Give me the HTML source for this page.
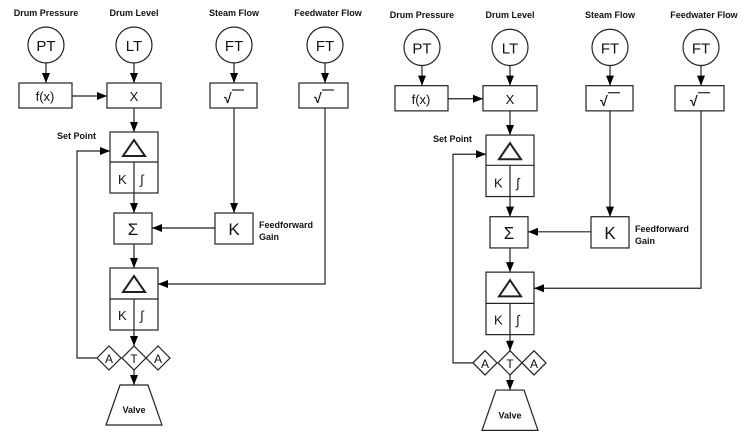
<!DOCTYPE html>
<html><head><meta charset="utf-8"><style>
html,body{margin:0;padding:0;background:#fff;width:750px;height:433px;overflow:hidden}
svg{display:block}
text{font-family:"Liberation Sans",Arial,sans-serif;fill:#111}
.b{font-weight:bold;font-size:9px}
.m{font-size:15px}
</style></head><body>
<svg width="750" height="433" viewBox="0 0 750 433">
<defs>
<marker id="a" markerWidth="10" markerHeight="8" refX="10" refY="4" orient="auto" markerUnits="userSpaceOnUse">
<path d="M0,0 L10,4 L0,8 Z" fill="#000"/></marker>
<g id="d" stroke="#222" stroke-width="1.2" fill="none">
<text class="b" x="46" y="16" text-anchor="middle" stroke="none">Drum Pressure</text>
<text class="b" x="134" y="16" text-anchor="middle" stroke="none">Drum Level</text>
<text class="b" x="234" y="16" text-anchor="middle" stroke="none">Steam Flow</text>
<text class="b" x="328" y="16" text-anchor="middle" stroke="none">Feedwater Flow</text>
<circle cx="46" cy="45" r="18" fill="#fff"/>
<circle cx="134" cy="45" r="18" fill="#fff"/>
<circle cx="234" cy="45" r="18" fill="#fff"/>
<circle cx="325" cy="45" r="18" fill="#fff"/>
<text class="m" x="46" y="51" text-anchor="middle" stroke="none">PT</text>
<text class="m" x="134" y="51" text-anchor="middle" stroke="none">LT</text>
<text class="m" x="234" y="51" text-anchor="middle" stroke="none">FT</text>
<text class="m" x="325" y="51" text-anchor="middle" stroke="none">FT</text>
<line x1="46" y1="63" x2="46" y2="83" marker-end="url(#a)"/>
<line x1="134" y1="63" x2="134" y2="83" marker-end="url(#a)"/>
<line x1="234" y1="63" x2="234" y2="83" marker-end="url(#a)"/>
<line x1="325" y1="63" x2="325" y2="83" marker-end="url(#a)"/>
<rect x="19" y="83" width="53" height="25"/>
<rect x="107" y="83" width="54" height="25"/>
<rect x="210" y="83" width="47" height="25"/>
<rect x="299" y="83" width="49" height="25"/>
<text class="m" x="45" y="101" text-anchor="middle" stroke="none" style="font-size:13px">f(x)</text>
<text class="m" x="134" y="101" text-anchor="middle" stroke="none" style="font-size:13px">X</text>
<text x="224" y="103" stroke="none" style="font-size:14px;font-weight:bold">√</text><line x1="232" y1="90" x2="244" y2="90"/>
<text x="314" y="103" stroke="none" style="font-size:14px;font-weight:bold">√</text><line x1="322" y1="90" x2="334" y2="90"/>
<line x1="72" y1="96" x2="107" y2="96" marker-end="url(#a)"/>
<line x1="134" y1="108" x2="134" y2="132" marker-end="url(#a)"/>
<!-- PID1 -->
<rect x="110" y="132" width="48" height="61"/>
<line x1="110" y1="162" x2="158" y2="162"/>
<path d="M123,156 L134,140 L145,156 Z" stroke-width="2"/>
<text x="118" y="184" stroke="none" style="font-size:13px">K</text>
<text x="140" y="184" stroke="none" style="font-size:13px">∫</text>
<line x1="134" y1="162" x2="134" y2="213" marker-end="url(#a)"/>
<text class="b" x="57" y="139" stroke="none">Set Point</text>
<polyline points="109,358 77,358 77,151 110,151" marker-end="url(#a)"/>
<!-- steam -->
<line x1="234" y1="108" x2="234" y2="213" marker-end="url(#a)"/>
<rect x="114" y="213" width="38" height="31"/>
<rect x="215" y="213" width="38" height="31"/>
<text x="133" y="235" text-anchor="middle" stroke="none" style="font-size:17px">Σ</text>
<text x="234" y="235" text-anchor="middle" stroke="none" style="font-size:17px">K</text>
<line x1="215" y1="228" x2="152" y2="228" marker-end="url(#a)"/>
<text class="b" x="259" y="228" stroke="none">Feedforward</text>
<text class="b" x="259" y="240" stroke="none">Gain</text>
<line x1="134" y1="244" x2="134" y2="268" marker-end="url(#a)"/>
<!-- PID2 -->
<rect x="110" y="268" width="48" height="62"/>
<line x1="110" y1="299" x2="158" y2="299"/>
<path d="M123,292 L134,276 L145,292 Z" stroke-width="2"/>
<text x="118" y="320" stroke="none" style="font-size:13px">K</text>
<text x="140" y="320" stroke="none" style="font-size:13px">∫</text>
<polyline points="325,108 325,284 158,284" marker-end="url(#a)"/>
<line x1="134" y1="299" x2="134" y2="346" marker-end="url(#a)"/>
<!-- diamonds -->
<path d="M97,358 L109,346 L121,358 L109,370 Z" fill="#fff"/>
<path d="M122,358 L134,346 L146,358 L134,370 Z" fill="#fff"/>
<path d="M146,358 L158,346 L170,358 L158,370 Z" fill="#fff"/>
<text x="109" y="363" text-anchor="middle" stroke="none" style="font-size:12px">A</text>
<text x="134" y="363" text-anchor="middle" stroke="none" style="font-size:12px">T</text>
<text x="158" y="363" text-anchor="middle" stroke="none" style="font-size:12px">A</text>
<line x1="134" y1="370" x2="134" y2="385" marker-end="url(#a)"/>
<path d="M120,385 L148,385 L162,425 L106,425 Z"/>
<text class="b" x="134" y="413" text-anchor="middle" stroke="none">Valve</text>
</g>
</defs>
<use href="#d"/>
<use href="#d" transform="translate(376,2) scale(1,1.008)"/>
</svg>
</body></html>
